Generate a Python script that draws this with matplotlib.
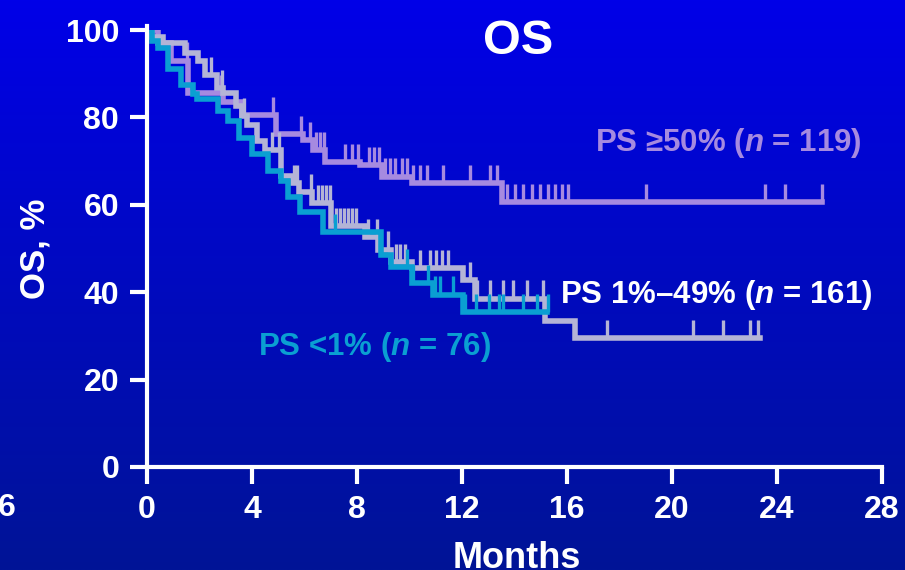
import matplotlib
matplotlib.use("Agg")
import matplotlib.pyplot as plt
import numpy as np

plt.rcParams['font.family'] = ['Liberation Sans', 'DejaVu Sans']
plt.rcParams['font.weight'] = 'bold'
plt.rcParams['mathtext.fontset'] = 'custom'
plt.rcParams['mathtext.it'] = 'Liberation Sans:italic:bold'
plt.rcParams['mathtext.rm'] = 'Liberation Sans:bold'

# KM step data: event times (months) and survival (%) after each step
hi_t = [0, 0.4, 0.9, 1.55, 2.9, 3.6, 4.9, 5.94, 6.32, 6.78, 8.11, 8.95, 10.1, 13.52]
hi_s = [100, 97, 93, 85.5, 83.5, 80.5, 76.2, 74.8, 72.5, 69.8, 69.1, 66.4, 65.0, 60.6]
hi_end = 25.7
hi_cens = [1.52, 2.82, 4.8, 5.87, 6.2, 6.44, 6.59, 6.74, 7.54, 7.81, 8.04, 8.46, 8.65,
           8.84, 9.07, 9.26, 9.45, 9.71, 9.9, 10.13, 10.4, 10.67, 11.28, 12.3, 13.07,
           13.33, 13.71, 14.02, 14.32, 14.67, 14.97, 15.28, 15.54, 15.81, 16.04, 19.0,
           23.54, 24.3, 25.71]

mid_t = [0, 0.2, 0.6, 1.45, 1.95, 2.2, 2.65, 2.9, 3.4, 3.6, 3.8, 4.2, 4.5, 5.1, 5.55,
         5.8, 6.3, 7.0, 8.3, 8.8, 9.3, 10.1, 12.05, 12.5, 15.15, 16.3]
mid_s = [100, 98.5, 97, 94.7, 93, 89.7, 86.7, 85.6, 82.5, 80.3, 78.3, 74.6, 72.5, 66.6,
         65, 62.9, 60.4, 55.1, 52.6, 49.7, 46.9, 45.5, 42.7, 38.5, 33.4, 29.5]
mid_end = 23.35
mid_cens = [2.44, 2.86, 3.7, 4.76, 5.03, 5.6, 5.71, 6.25, 6.51, 6.67, 6.82, 6.97, 7.2,
            7.35, 7.5, 7.66, 7.81, 7.96, 8.42, 8.76, 9.18, 9.49, 9.64, 9.83, 10.4,
            10.78, 11.0, 11.24, 11.47, 12.3, 12.57, 13.07, 13.56, 13.94, 14.48, 15.09,
            17.52, 20.8, 21.94, 22.97, 23.28]

lo_t = [0, 0.2, 0.4, 0.8, 1.3, 1.75, 1.9, 2.7, 3.1, 3.5, 4.0, 4.6, 5.1, 5.37, 5.83,
        6.7, 8.9, 9.3, 10.1, 10.9, 12.05]
lo_s = [100, 97.5, 95.9, 91, 87.4, 85.4, 84.1, 81.5, 79.2, 75.3, 71.6, 67.7, 65.4,
        61.8, 58.4, 53.8, 48.5, 45.8, 42.1, 39.4, 35.5]
lo_end = 15.24
lo_cens = [7.16, 9.9, 10.13, 10.7, 10.97, 11.16, 11.66, 12.11, 12.53, 13.03, 13.41,
           13.56, 14.32, 14.86, 15.28]

groups = [
    (hi_t, hi_s, hi_end, hi_cens, '#a68ae0', r'PS ≥50% ($n$ = 119)', 17.07, 74.1),
    (mid_t, mid_s, mid_end, mid_cens, '#b4b4d6', r'PS 1%–49% ($n$ = 161)', 15.73, 39.4),
    (lo_t, lo_s, lo_end, lo_cens, '#0a9fd2', r'PS <1% ($n$ = 76)', 4.23, 27.5),
]
label_colors = ['#a68ae0', 'white', '#0a9fd2']

fig = plt.figure(figsize=(9.05, 5.70), dpi=100)

# blue backdrop, brighter at the top
bg = fig.add_axes([0, 0, 1, 1], zorder=0)
top = np.array([0, 0, 232]) / 255
bot = np.array([0, 20, 150]) / 255
frac = np.linspace(0, 1, 256)[:, None, None]
grad = top + (bot - top) * frac
grad = np.repeat(grad, 4, axis=1)
bg.imshow(grad, aspect='auto', extent=[0, 1, 0, 1])
bg.axis('off')

ax = fig.add_axes([147 / 905, 1 - 467 / 570, 735 / 905, 437 / 570], zorder=1)
ax.set_facecolor('none')

for (t, s, end, cens, col, lab, lx, ly), lc in zip(groups, label_colors):
    tt = list(t) + [end]
    ss = list(s) + [s[-1]]
    ax.step(tt, ss, where='post', color=col, lw=4, solid_joinstyle='miter')
    idx = np.searchsorted(t, cens, side='right') - 1
    cy = np.array(s)[idx]
    ax.vlines(cens, cy, cy + 4.2, color=col, lw=2.4)
    ax.text(lx, ly, lab, color=lc, fontsize=22.5, fontweight='bold', va='center', ha='left')

ax.set_xlim(0, 28)
ax.set_ylim(0, 100)
ax.set_xticks(np.arange(0, 29, 4))
ax.set_yticks(np.arange(0, 101, 20))
for side in ['top', 'right']:
    ax.spines[side].set_visible(False)
for side in ['left', 'bottom']:
    ax.spines[side].set_color('white')
    ax.spines[side].set_linewidth(3)
ax.spines['left'].set_bounds(0, 101)
ax.tick_params(colors='white', width=3, length=12, labelsize=23, pad=8)
for lbl in ax.get_xticklabels() + ax.get_yticklabels():
    lbl.set_fontweight('bold')

ax.set_ylabel('OS, %', color='white', fontsize=25, fontweight='bold')
ax.yaxis.set_label_coords(-0.13, 0.5)
fig.text(517 / 905, 0.004, 'Months', color='white', fontsize=26, fontweight='bold',
         ha='center', va='baseline')
fig.text(518 / 905, 1 - 42 / 570, 'OS', color='white', fontsize=35, fontweight='bold',
         ha='center', va='center')
fig.text(7 / 905, 1 - 508 / 570, '6', color='white', fontsize=23, fontweight='bold',
         ha='center', va='center')

fig.savefig('out.png', dpi=100)
